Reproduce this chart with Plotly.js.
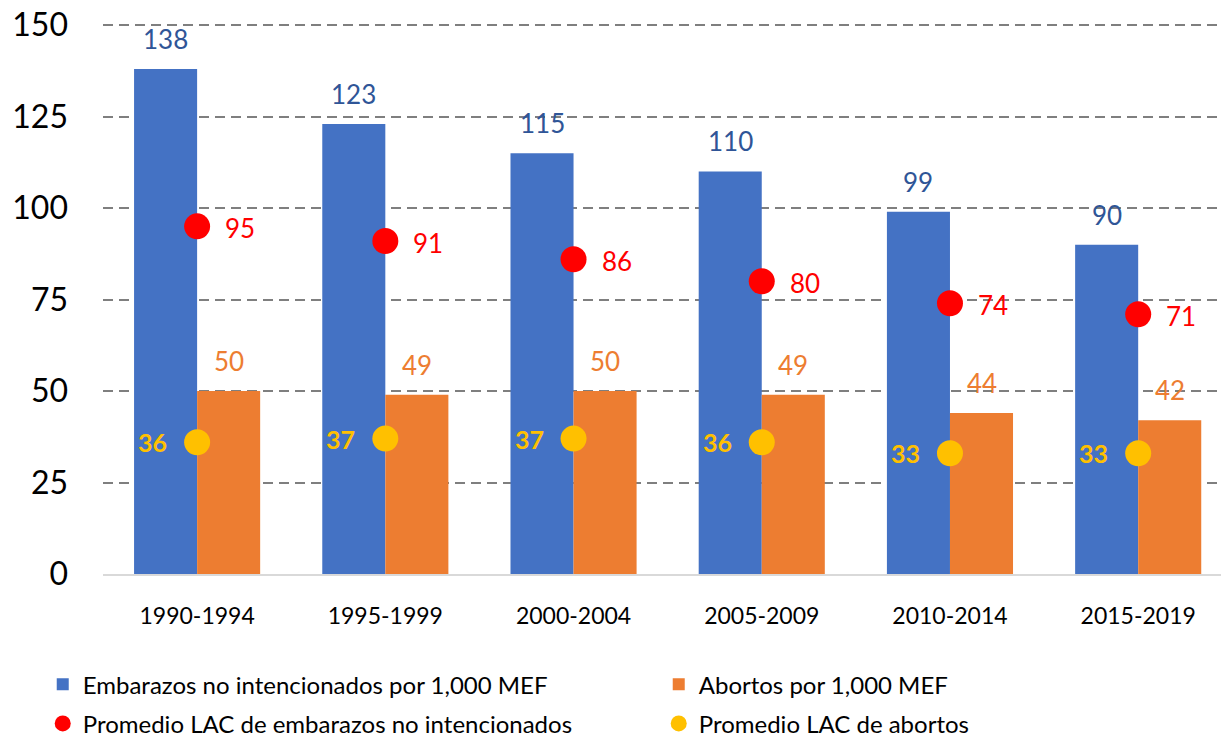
<!DOCTYPE html>
<html>
<head>
<meta charset="utf-8">
<script src="https://cdn.plot.ly/plotly-3.0.1.min.js"></script>
<style>
  html, body { margin: 0; padding: 0; background: #fff; }
  #chart { width: 1221px; height: 739px; }
</style>
</head>
<body>
<div id="chart"></div>
<script>
// data
const categories = ['1990-1994', '1995-1999', '2000-2004', '2005-2009', '2010-2014', '2015-2019'];
const embarazos = [138, 123, 115, 110, 99, 90];
const abortos = [50, 49, 50, 49, 44, 42];
const lacEmbarazos = [95, 91, 86, 80, 74, 71];
const lacAbortos = [36, 37, 37, 36, 33, 33];

const seriesNames = [
  'Embarazos no intencionados por 1,000 MEF',
  'Abortos por 1,000 MEF',
  'Promedio LAC de embarazos no intencionados',
  'Promedio LAC de abortos'
];

const FONT = 'Lato, "Open Sans", sans-serif';
const BLUE = '#4472C4', ORANGE = '#ED7D31', RED = '#FF0000', YELLOW = '#FFC000';

// two legend columns: left = pregnancies, right = abortions
const traces = [
  {
    type: 'bar', x: categories, y: embarazos, name: seriesNames[0],
    marker: { color: BLUE }, legend: 'legend', legendgroup: 'a'
  },
  {
    type: 'bar', x: categories, y: abortos, name: seriesNames[1],
    marker: { color: ORANGE }, legend: 'legend2', legendgroup: 'c'
  },
  {
    type: 'scatter', mode: 'markers', x: categories, y: lacEmbarazos, name: seriesNames[2],
    marker: { color: RED, size: 26 }, cliponaxis: false, legend: 'legend', legendgroup: 'b'
  },
  {
    type: 'scatter', mode: 'markers', x: categories, y: lacAbortos, name: seriesNames[3],
    marker: { color: YELLOW, size: 26 }, cliponaxis: false, legend: 'legend2', legendgroup: 'd'
  }
];

// value labels
const barOffset = 0.1675;
const annotations = [];
categories.forEach((c, i) => {
  annotations.push({
    x: i - barOffset, y: embarazos[i], xref: 'x', yref: 'y', text: String(embarazos[i]),
    showarrow: false, yanchor: 'bottom', yshift: 12,
    font: { family: FONT, size: 26, color: '#2F5597' }
  });
  annotations.push({
    x: i + barOffset, y: abortos[i], xref: 'x', yref: 'y', text: String(abortos[i]),
    showarrow: false, yanchor: 'bottom', yshift: 12,
    font: { family: FONT, size: 26, color: ORANGE }
  });
  annotations.push({
    x: i, y: lacEmbarazos[i], xref: 'x', yref: 'y', text: String(lacEmbarazos[i]),
    showarrow: false, xanchor: 'left', xshift: 26, yshift: -2,
    font: { family: FONT, size: 26, color: RED }
  });
  annotations.push({
    x: i, y: lacAbortos[i], xref: 'x', yref: 'y', text: '<b>' + lacAbortos[i] + '</b>',
    showarrow: false, xanchor: 'right', xshift: -28,
    font: { family: FONT, size: 25, color: YELLOW }
  });
});

const legendBase = {
  orientation: 'v',
  xref: 'container',
  yref: 'container',
  y: 0.104,
  xanchor: 'left',
  yanchor: 'top',
  itemwidth: 30,
  tracegroupgap: 5,
  bgcolor: 'rgba(0,0,0,0)',
  font: { family: FONT, size: 24, color: '#000000' },
  traceorder: 'grouped'
};

const layout = {
  width: 1221,
  height: 739,
  margin: { l: 103, r: 0, t: 24, b: 165, autoexpand: false },
  paper_bgcolor: '#ffffff',
  plot_bgcolor: '#ffffff',
  font: { family: FONT, color: '#000000' },
  barmode: 'group',
  bargap: 0.33,
  bargroupgap: 0,
  showlegend: true,
  xaxis: {
    type: 'category',
    range: [-0.5, 5.44],
    automargin: false,
    showgrid: false,
    showline: true,
    linecolor: '#d9d9d9',
    linewidth: 2,
    ticks: '',
    ticklabelstandoff: 20,
    tickfont: { family: FONT, size: 23, color: '#000000' }
  },
  yaxis: {
    range: [0, 150.3],
    automargin: false,
    tickvals: [0, 25, 50, 75, 100, 125, 150],
    gridcolor: '#7f7f7f',
    gridwidth: 2,
    griddash: '10px,6px',
    zeroline: false,
    showline: false,
    ticks: '',
    ticklabelstandoff: 34,
    tickfont: { family: FONT, size: 32, color: '#000000' }
  },
  legend: Object.assign({}, legendBase, { x: 0.035 }),
  legend2: Object.assign({}, legendBase, { x: 0.035 + 616 / 1221 }),
  annotations: annotations
};

Plotly.newPlot('chart', traces, layout, { displayModeBar: false, staticPlot: true });
</script>
</body>
</html>
